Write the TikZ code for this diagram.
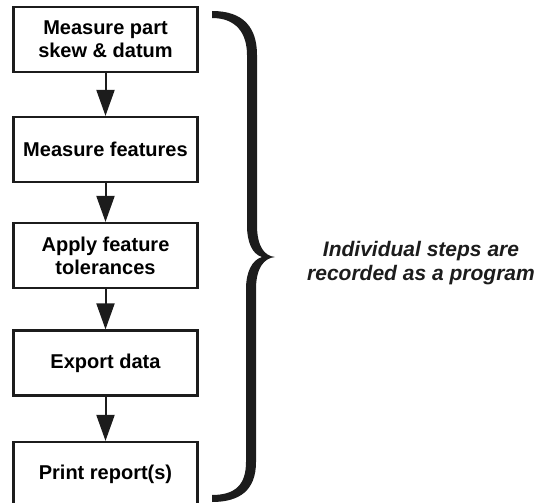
\documentclass[tikz,border=0pt]{standalone}
\usepackage{fontspec}
\setmainfont{Liberation Sans}
\usetikzlibrary{arrows.meta}
\definecolor{ink}{HTML}{1C1C1C}
\begin{document}
\begin{tikzpicture}[x=1pt,y=-1pt,
  stepbox/.style={draw=ink, line width=2.2pt, fill=white, minimum width=184pt,
    minimum height=65pt, align=center, inner sep=0pt,
    font=\fontsize{20}{23}\selectfont\bfseries},
  flow/.style={draw=ink, line width=2pt, -{Triangle[length=26pt,width=18pt]}},
  note/.style={align=center, inner sep=0pt, text=ink,
    font=\fontsize{21}{24}\selectfont\bfseries\itshape}]
\useasboundingbox (0,0) rectangle (544,503);
\node[stepbox] (s1) at (105.5,39.5) {Measure part\\skew \& datum};
\node[stepbox] (s2) at (105.5,149.5) {Measure features};
\node[stepbox] (s3) at (105.5,255.5) {Apply feature\\tolerances};
\node[stepbox] (s4) at (105.5,363) {Export data};
\node[stepbox] (s5) at (105.5,474.5) {Print report(s)};
\draw[flow] (s1) -- (s2);
\draw[flow] (s2) -- (s3);
\draw[flow] (s3) -- (s4);
\draw[flow] (s4) -- (s5);
% brace
\fill[ink] (212,11) .. controls (244,11) and (257,28) .. (257,55)
  -- (257,225) .. controls (257,246) and (264,256) .. (275,257)
  .. controls (264,258) and (256,268) .. (256,289)
  -- (256,462) .. controls (256,490) and (240,502) .. (212,502)
  -- (212,495) .. controls (236,495) and (246,484) .. (246,462)
  -- (246,289) .. controls (246,272) and (252,260) .. (262,257)
  .. controls (252,254) and (247,242) .. (247,225)
  -- (247,55) .. controls (247,33) and (236,18) .. (212,18) -- cycle;
\node[note] (txt) at (421,263) {Individual steps are\\recorded as a program};
\end{tikzpicture}
\end{document}
